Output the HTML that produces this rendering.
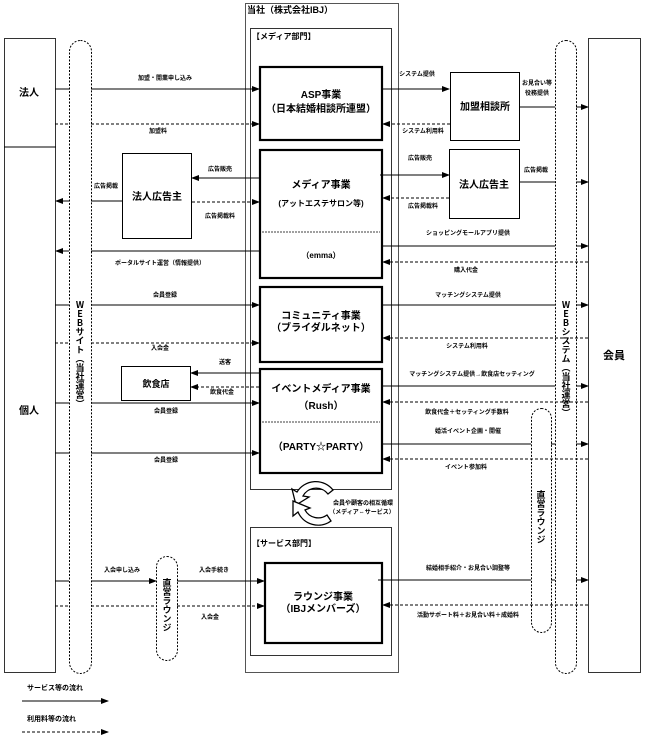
<!DOCTYPE html>
<html><head><meta charset="utf-8"><style>
html,body{margin:0;padding:0;background:#fff}
svg{display:block}
text{font-family:"Liberation Sans","Noto Sans CJK JP",sans-serif;font-weight:bold;fill:#000}
.s{font-size:6px}
.m{font-size:10px}
.l{font-size:11px}
.v{writing-mode:vertical-rl;text-orientation:upright;font-size:9px;font-family:"Noto Sans CJK JP",sans-serif}
</style></head><body>
<svg width="645" height="756" viewBox="0 0 645 756" xmlns="http://www.w3.org/2000/svg">
<defs>
<marker id="a" markerWidth="8" markerHeight="6" refX="7" refY="3" orient="auto" markerUnits="userSpaceOnUse"><path d="M0,0L8,3L0,6z" fill="#000"/></marker>
</defs>
<g fill="none" stroke="#000" stroke-width="1">
<rect x="4.5" y="38.5" width="51" height="634" stroke="#333"/>
<line x1="4" y1="147" x2="56" y2="147"/>
<rect x="588.5" y="38.5" width="52" height="634" stroke="#333"/>
<rect x="245.5" y="3.5" width="153" height="669" stroke="#555"/>
<rect x="250.5" y="28.5" width="141" height="461" stroke="#333"/>
<rect x="250.5" y="527.5" width="141" height="128" stroke="#333"/>
<g stroke-width="2.2">
<rect x="260" y="67" width="122" height="73"/>
<rect x="260" y="150" width="122" height="128"/>
<rect x="260" y="287" width="122" height="75"/>
<rect x="260" y="369" width="122" height="104"/>
<rect x="265" y="563" width="117" height="80"/>
</g>
<line x1="262" y1="232" x2="380" y2="232" stroke-dasharray="2,1" stroke-width="0.8"/>
<line x1="262" y1="422" x2="380" y2="422" stroke-dasharray="2,1" stroke-width="0.8"/>
<rect x="450.5" y="72.5" width="69" height="68"/>
<rect x="449.5" y="149.5" width="70" height="69"/>
<rect x="122.5" y="153.5" width="69" height="85"/>
<rect x="121.5" y="366.5" width="69" height="34"/>
<g stroke-dasharray="2,1.5">
<rect x="69.5" y="40.5" width="22" height="633" rx="11"/>
<rect x="555.5" y="40.5" width="21" height="633" rx="10.5"/>
<rect x="531.5" y="408.5" width="20" height="224" rx="10"/>
<rect x="156.5" y="556.5" width="21" height="104" rx="10.5"/>
</g>
<g>
<line x1="55" y1="89" x2="69" y2="89"/><line x1="91" y1="89" x2="259" y2="89" marker-end="url(#a)"/>
<line x1="259" y1="178" x2="192" y2="178" marker-end="url(#a)"/>
<line x1="122" y1="201" x2="91" y2="201"/><line x1="69" y1="201" x2="56" y2="201" marker-end="url(#a)"/>
<line x1="259" y1="251" x2="91" y2="251"/><line x1="69" y1="251" x2="56" y2="251" marker-end="url(#a)"/>
<line x1="55" y1="305" x2="69" y2="305"/><line x1="91" y1="305" x2="259" y2="305" marker-end="url(#a)"/>
<line x1="259" y1="373" x2="191" y2="373" marker-end="url(#a)"/>
<line x1="55" y1="403" x2="69" y2="403"/><line x1="91" y1="403" x2="259" y2="403" marker-end="url(#a)"/>
<line x1="55" y1="453" x2="69" y2="453"/><line x1="91" y1="453" x2="259" y2="453" marker-end="url(#a)"/>
<line x1="55" y1="581" x2="69" y2="581"/><line x1="91" y1="581" x2="156" y2="581" marker-end="url(#a)"/>
<line x1="177" y1="581" x2="264" y2="581" marker-end="url(#a)"/>
</g>
<g stroke-dasharray="3,2">
<line x1="55" y1="124" x2="69" y2="124"/><line x1="91" y1="124" x2="259" y2="124" marker-end="url(#a)"/>
<line x1="192" y1="202" x2="259" y2="202" marker-end="url(#a)"/>
<line x1="55" y1="343" x2="69" y2="343"/><line x1="91" y1="343" x2="259" y2="343" marker-end="url(#a)"/>
<line x1="259" y1="387" x2="191" y2="387" marker-end="url(#a)"/>
<line x1="55" y1="606" x2="69" y2="606"/><line x1="91" y1="606" x2="156" y2="606"/><line x1="177" y1="606" x2="264" y2="606" marker-end="url(#a)"/>
</g>
<g>
<line x1="382" y1="89" x2="449" y2="89" marker-end="url(#a)"/>
<line x1="519" y1="107" x2="555" y2="107"/><line x1="576" y1="107" x2="588" y2="107" marker-end="url(#a)"/>
<line x1="380" y1="175" x2="449" y2="175" marker-end="url(#a)"/>
<line x1="519" y1="182" x2="555" y2="182"/><line x1="576" y1="182" x2="588" y2="182" marker-end="url(#a)"/>
<line x1="382" y1="246" x2="555" y2="246"/><line x1="576" y1="246" x2="588" y2="246" marker-end="url(#a)"/>
<line x1="382" y1="305" x2="555" y2="305"/><line x1="576" y1="305" x2="588" y2="305" marker-end="url(#a)"/>
<line x1="382" y1="386" x2="555" y2="386"/><line x1="576" y1="386" x2="588" y2="386" marker-end="url(#a)"/>
<line x1="382" y1="444" x2="531" y2="444"/><line x1="551" y1="444" x2="555" y2="444"/><line x1="576" y1="444" x2="588" y2="444" marker-end="url(#a)"/>
<line x1="378" y1="580" x2="531" y2="580"/><line x1="551" y1="580" x2="555" y2="580"/><line x1="576" y1="580" x2="588" y2="580" marker-end="url(#a)"/>
</g>
<g stroke-dasharray="3,2">
<line x1="450" y1="124" x2="383" y2="124" marker-end="url(#a)"/>
<line x1="449" y1="198" x2="383" y2="198" marker-end="url(#a)"/>
<line x1="588" y1="262" x2="383" y2="262" marker-end="url(#a)"/>
<line x1="588" y1="338" x2="383" y2="338" marker-end="url(#a)"/>
<line x1="588" y1="402" x2="383" y2="402" marker-end="url(#a)"/>
<line x1="588" y1="459" x2="383" y2="459" marker-end="url(#a)"/>
<line x1="588" y1="605" x2="383" y2="605" marker-end="url(#a)"/>
</g>
<line x1="22" y1="701" x2="108" y2="701" marker-end="url(#a)"/>
<line x1="22" y1="732" x2="108" y2="732" stroke-dasharray="3,2" marker-end="url(#a)"/>
</g>
<g fill="#fff" stroke="#000" stroke-width="1.3">
<path d="M333,490 A22,22 0 0 0 297,492 L292,489 L296,505 L309,497 L303,496 A15,15 0 0 1 328,494 Z"/>
<path d="M298,512 A22,22 0 0 0 331,521 L327,515 A15,15 0 0 1 305,510 L310,508 L293,501 L293,516 Z"/>
</g>
<text x="247" y="13" font-size="9">当社（株式会社IBJ）</text>
<text x="252" y="39" font-size="8">【メディア部門】</text>
<text x="252" y="546" font-size="8">【サービス部門】</text>
<text x="29" y="96" class="m" text-anchor="middle">法人</text>
<text x="29" y="414" class="m" text-anchor="middle">個人</text>
<text x="614" y="359" class="l" text-anchor="middle">会員</text>
<g class="m" text-anchor="middle" font-size="9">
<text x="321" y="98">ASP事業</text>
<text x="321" y="112">（日本結婚相談所連盟）</text>
<text x="321" y="188">メディア事業</text>
<text x="321" y="206" font-size="8">(アットエステサロン等)</text>
<text x="321" y="258" font-size="8">（emma）</text>
<text x="321" y="319">コミュニティ事業</text>
<text x="321" y="331">（ブライダルネット）</text>
<text x="321" y="392">イベントメディア事業</text>
<text x="321" y="409">（Rush）</text>
<text x="321" y="450">（PARTY☆PARTY）</text>
<text x="323" y="600">ラウンジ事業</text>
<text x="323" y="612">（IBJメンバーズ）</text>
<text x="485" y="110" font-size="10">加盟相談所</text>
<text x="484" y="188" font-size="10">法人広告主</text>
<text x="157" y="200" font-size="10">法人広告主</text>
<text x="156" y="387" font-size="9">飲食店</text>
</g>
<g class="s" text-anchor="middle">
<text x="165" y="80">加盟・開業申し込み</text>
<text x="158" y="133">加盟料</text>
<text x="220" y="171">広告販売</text>
<text x="220" y="218">広告掲載料</text>
<text x="106" y="188">広告掲載</text>
<text x="160" y="265">ポータルサイト運営（情報提供）</text>
<text x="165" y="297">会員登録</text>
<text x="160" y="350">入会金</text>
<text x="225" y="364">送客</text>
<text x="222" y="394">飲食代金</text>
<text x="166" y="413">会員登録</text>
<text x="166" y="462">会員登録</text>
<text x="122" y="572">入会申し込み</text>
<text x="214" y="572">入会手続き</text>
<text x="210" y="619">入会金</text>
<text x="417" y="76">システム提供</text>
<text x="423" y="133">システム利用料</text>
<text x="537" y="85">お見合い等</text>
<text x="537" y="95">役務提供</text>
<text x="420" y="160">広告販売</text>
<text x="423" y="208">広告掲載料</text>
<text x="536" y="172">広告掲載</text>
<text x="468" y="235">ショッピングモールアプリ提供</text>
<text x="466" y="272">購入代金</text>
<text x="468" y="297">マッチングシステム提供</text>
<text x="467" y="348">システム利用料</text>
<text x="472" y="376">マッチングシステム提供→飲食店セッティング</text>
<text x="467" y="414">飲食代金＋セッティング手数料</text>
<text x="468" y="433">婚活イベント企画・開催</text>
<text x="466" y="469">イベント参加料</text>
<text x="468" y="570">結婚相手紹介・お見合い調整等</text>
<text x="468" y="617">活動サポート料＋お見合い料＋成婚料</text>
<text x="363" y="505" font-weight="normal">会員や顧客の相互循環</text>
<text x="362" y="514" font-weight="normal">（メディア⇔サービス）</text>
</g>
<text x="80" y="300" class="v">WEBサイト（当社運営）</text>
<text x="566" y="300" class="v">WEBシステム（当社運営）</text>
<text x="167" y="578" class="v">直営ラウンジ</text>
<text x="541" y="490" class="v">直営ラウンジ</text>
<text x="27" y="690" font-size="7">サービス等の流れ</text>
<text x="27" y="721" font-size="7">利用料等の流れ</text>
</svg>
</body></html>
